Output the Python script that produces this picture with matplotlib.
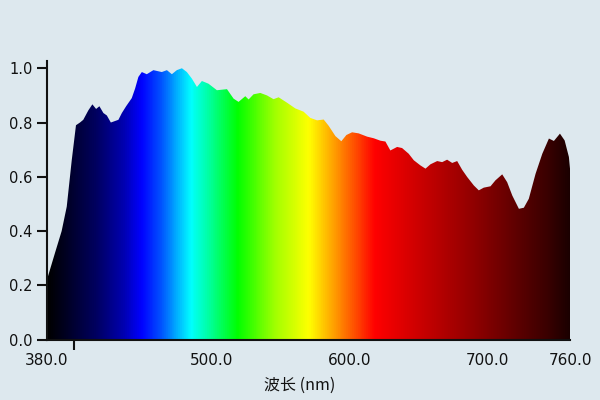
import matplotlib
matplotlib.use("Agg")
import matplotlib.pyplot as plt
import numpy as np
from matplotlib.colors import LinearSegmentedColormap
from matplotlib.patches import Polygon

# data (wavelength nm, relative intensity)
wavelength = [380.0, 386.2, 391.0, 394.7, 398.3, 401.4, 404.3, 406.7, 410.4, 413.3,
              416.0, 418.4, 421.3, 423.8, 426.7, 432.2, 434.7, 437.8, 441.9, 444.3,
              446.7, 449.2, 452.8, 457.6, 463.7, 467.4, 471.0, 474.6, 478.3, 481.9,
              485.5, 489.2, 492.8, 497.6, 503.7, 511.0, 515.8, 519.4, 524.3, 526.7,
              530.3, 535.2, 540.0, 544.8, 548.5, 554.6, 560.6, 566.6, 571.5, 576.4,
              581.2, 584.8, 589.7, 594.0, 597.7, 601.8, 606.6, 612.7, 617.5, 622.4,
              626.0, 629.6, 634.5, 638.1, 642.9, 646.6, 651.4, 655.1, 658.7, 663.6,
              667.2, 670.8, 674.5, 678.1, 681.7, 685.4, 690.2, 693.8, 697.4, 702.3,
              705.9, 710.8, 714.4, 718.1, 722.9, 726.5, 730.1, 735.0, 739.9, 744.7,
              748.3, 752.7, 756.1, 759.2, 760.0]
intensity = [0.215, 0.32, 0.40, 0.49, 0.66, 0.79, 0.80, 0.81, 0.845, 0.867,
             0.85, 0.86, 0.835, 0.826, 0.80, 0.81, 0.835, 0.86, 0.89, 0.925,
             0.968, 0.986, 0.978, 0.993, 0.986, 0.993, 0.978, 0.993, 1.0, 0.986,
             0.962, 0.931, 0.953, 0.943, 0.919, 0.923, 0.888, 0.876, 0.897, 0.885,
             0.904, 0.909, 0.90, 0.886, 0.893, 0.873, 0.852, 0.84, 0.817, 0.808,
             0.811, 0.788, 0.75, 0.731, 0.754, 0.764, 0.76, 0.748, 0.742, 0.733,
             0.73, 0.697, 0.71, 0.706, 0.685, 0.661, 0.642, 0.63, 0.646, 0.658,
             0.654, 0.663, 0.651, 0.658, 0.626, 0.599, 0.568, 0.55, 0.56, 0.565,
             0.587, 0.609, 0.58, 0.531, 0.482, 0.486, 0.519, 0.611, 0.685, 0.741,
             0.732, 0.759, 0.734, 0.673, 0.63]

label_pos = [380, 500, 600, 700, 760]
label_text = ["380.0", "500.0", "600.0", "700.0", "760.0"]
tickmark_pos = [400, 500, 600, 700]
ytick_pos = [0.0, 0.2, 0.4, 0.6, 0.8, 1.0]
ytick_labels = ["0.0", "0.2", "0.4", "0.6", "0.8", "1.0"]

# spectrum colour anchors
color_nm = [380, 395, 415, 435, 448, 462, 474, 484, 497, 518, 545, 570, 585, 600,
            618, 650, 690, 720, 745, 760]
color_hex = ["#000000", "#000028", "#000060", "#0000b0", "#0000ff", "#0050ff",
             "#00b0ff", "#00ffff", "#00ffa0", "#00ff00", "#a0ff00", "#ffff00",
             "#ffb000", "#ff6000", "#ff0000", "#cc0000", "#900000", "#600000",
             "#380000", "#1a0000"]

bg = "#dde8ee"
plt.rcParams['font.family'] = ['DejaVu Sans']

fig = plt.figure(figsize=(6, 4), dpi=100, facecolor=bg)
ax = fig.add_axes([0.0775, 0.151, 0.8725, 0.696])
ax.set_facecolor(bg)

xmin, xmax = 380, 760
ymax = 1.026
cmap = LinearSegmentedColormap.from_list(
    "spec", [((n - xmin) / (xmax - xmin), c) for n, c in zip(color_nm, color_hex)])
grad = np.linspace(0, 1, 1000).reshape(1, -1)
im = ax.imshow(grad, extent=[xmin, xmax, 0, ymax], aspect='auto', cmap=cmap,
               origin='lower', interpolation='bilinear', zorder=1)
verts = [(wavelength[0], 0)] + list(zip(wavelength, intensity)) + [(wavelength[-1], 0)]
poly = Polygon(verts, closed=True, facecolor='none', edgecolor='none')
ax.add_patch(poly)
im.set_clip_path(poly)

ax.set_xlim(xmin, xmax)
ax.set_ylim(0, ymax)
for s in ['top', 'right']:
    ax.spines[s].set_visible(False)
for s in ['left', 'bottom']:
    ax.spines[s].set_linewidth(1.5)
    ax.spines[s].set_color('#111111')
    ax.spines[s].set_zorder(5)

# labels (no tick marks) at major positions, tick marks (no labels) at minor positions
ax.set_xticks(label_pos)
ax.set_xticklabels(label_text)
ax.set_xticks(tickmark_pos, minor=True)
ax.tick_params(axis='x', which='major', direction='out', length=0, pad=9.5,
               labelsize=11, colors='#111111')
ax.tick_params(axis='x', which='minor', direction='out', length=7.5, width=1.5,
               colors='#111111')
ax.set_yticks(ytick_pos)
ax.set_yticklabels(ytick_labels)
ax.tick_params(axis='y', direction='out', length=7, width=1.5, pad=3,
               labelsize=10.5, colors='#111111')

ax.set_xlabel("波长 (nm)", fontsize=11.5, color='#111111',
              family=['Noto Sans CJK SC', 'DejaVu Sans'])
ax.xaxis.set_label_coords((300 - 46.5) / 523.5, -0.135)

fig.savefig("out.png", dpi=100, facecolor=bg)
